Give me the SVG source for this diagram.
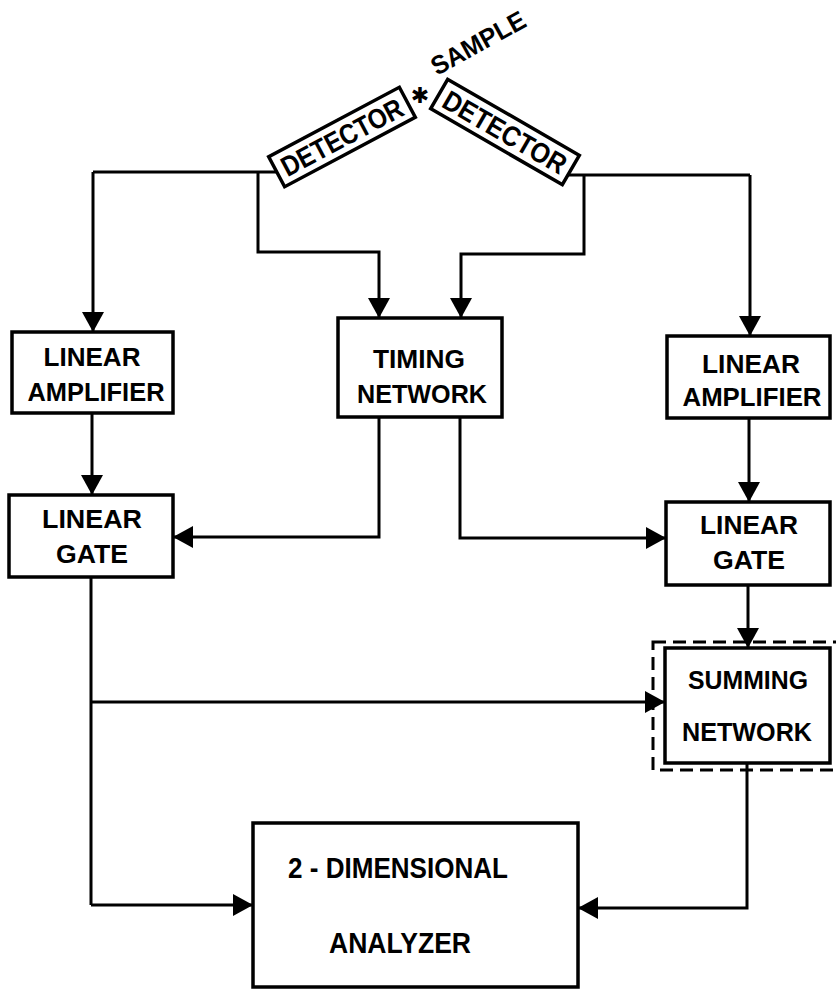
<svg xmlns="http://www.w3.org/2000/svg" width="836" height="989" viewBox="0 0 836 989">
<style>
  .box{fill:#fff;stroke:#000;stroke-width:3.5}
  .dash{fill:none;stroke:#000;stroke-width:3;stroke-dasharray:13 7}
  .ln{fill:none;stroke:#000;stroke-width:3}
  .arr{fill:none;stroke:#000;stroke-width:3;marker-end:url(#ah)}
  .t{font-family:"Liberation Sans",Arial,sans-serif;font-weight:bold;font-size:26px;fill:#000;text-anchor:middle}
  .t2{font-family:"Liberation Sans",Arial,sans-serif;font-weight:bold;font-size:30px;fill:#000;text-anchor:middle}
</style>
<defs>
  <marker id="ah" markerUnits="userSpaceOnUse" markerWidth="22" markerHeight="22" refX="20" refY="11" orient="auto">
    <path d="M0,0 L20,11 L0,22 z" fill="#000"/>
  </marker>
</defs>
<rect width="836" height="989" fill="#fff"/>

<g id="connectors">
  <path class="ln" d="M277,172 H93"/>
  <path class="arr" d="M93,172 V332"/>
  <path class="arr" d="M258,172 V252 H379 V318"/>
  <path class="ln" d="M568,175 H750"/>
  <path class="arr" d="M750,175 V336"/>
  <path class="arr" d="M584,175 V254 H461 V318"/>
  <path class="arr" d="M92,413 V495"/>
  <path class="arr" d="M749,418 V502"/>
  <path class="arr" d="M379,417 V537 H173"/>
  <path class="arr" d="M460,417 V538 H666"/>
  <path class="arr" d="M748,585 V648"/>
  <path class="ln" d="M91,577 V905"/>
  <path class="arr" d="M91,702 H665"/>
  <path class="arr" d="M91,905 H253"/>
  <path class="arr" d="M747,763 V908 H578"/>
</g>

<g id="sample">
  <text x="420" y="103" font-family="DejaVu Sans,sans-serif" font-size="22" font-weight="bold" text-anchor="middle">✱</text>
  <text class="t" x="437" y="76" transform="rotate(-29 437 76)" style="text-anchor:start" textLength="104" lengthAdjust="spacingAndGlyphs">SAMPLE</text>
</g>

<g id="detector-left" transform="translate(342 137) rotate(-28)">
  <rect class="box" x="-74" y="-17" width="148" height="34"/>
  <text class="t" x="0" y="10" style="font-size:28px" textLength="134" lengthAdjust="spacingAndGlyphs">DETECTOR</text>
</g>

<g id="detector-right" transform="translate(505 132) rotate(30)">
  <rect class="box" x="-76" y="-17" width="152" height="34"/>
  <text class="t" x="0" y="10" style="font-size:28px" textLength="138" lengthAdjust="spacingAndGlyphs">DETECTOR</text>
</g>

<g id="linear-amplifier-left">
  <rect class="box" x="12" y="332" width="161" height="81"/>
  <text class="t" x="92" y="366" textLength="97" lengthAdjust="spacingAndGlyphs">LINEAR</text>
  <text class="t" x="96" y="401" textLength="137" lengthAdjust="spacingAndGlyphs">AMPLIFIER</text>
</g>

<g id="timing-network">
  <rect class="box" x="338" y="318" width="164" height="99"/>
  <text class="t" x="419" y="368" textLength="92" lengthAdjust="spacingAndGlyphs">TIMING</text>
  <text class="t" x="422" y="403" textLength="130" lengthAdjust="spacingAndGlyphs">NETWORK</text>
</g>

<g id="linear-amplifier-right">
  <rect class="box" x="667" y="336" width="163" height="82"/>
  <text class="t" x="751" y="373" textLength="98" lengthAdjust="spacingAndGlyphs">LINEAR</text>
  <text class="t" x="752" y="406" textLength="139" lengthAdjust="spacingAndGlyphs">AMPLIFIER</text>
</g>

<g id="linear-gate-left">
  <rect class="box" x="9" y="495" width="164" height="82"/>
  <text class="t" x="92" y="528" textLength="100" lengthAdjust="spacingAndGlyphs">LINEAR</text>
  <text class="t" x="92" y="563" textLength="72" lengthAdjust="spacingAndGlyphs">GATE</text>
</g>

<g id="linear-gate-right">
  <rect class="box" x="666" y="502" width="164" height="83"/>
  <text class="t" x="749" y="534" textLength="98" lengthAdjust="spacingAndGlyphs">LINEAR</text>
  <text class="t" x="749" y="569" textLength="72" lengthAdjust="spacingAndGlyphs">GATE</text>
</g>

<g id="summing-network">
  <rect class="dash" x="653" y="642" width="186" height="128"/>
  <rect class="box" x="665" y="648" width="165" height="115"/>
  <text class="t" x="748" y="689" textLength="120" lengthAdjust="spacingAndGlyphs">SUMMING</text>
  <text class="t" x="747" y="741" textLength="130" lengthAdjust="spacingAndGlyphs">NETWORK</text>
</g>

<g id="analyzer">
  <rect class="box" x="253" y="823" width="325" height="164"/>
  <text class="t2" x="398" y="878" textLength="220" lengthAdjust="spacingAndGlyphs">2 - DIMENSIONAL</text>
  <text class="t2" x="400" y="953" textLength="142" lengthAdjust="spacingAndGlyphs">ANALYZER</text>
</g>
</svg>
